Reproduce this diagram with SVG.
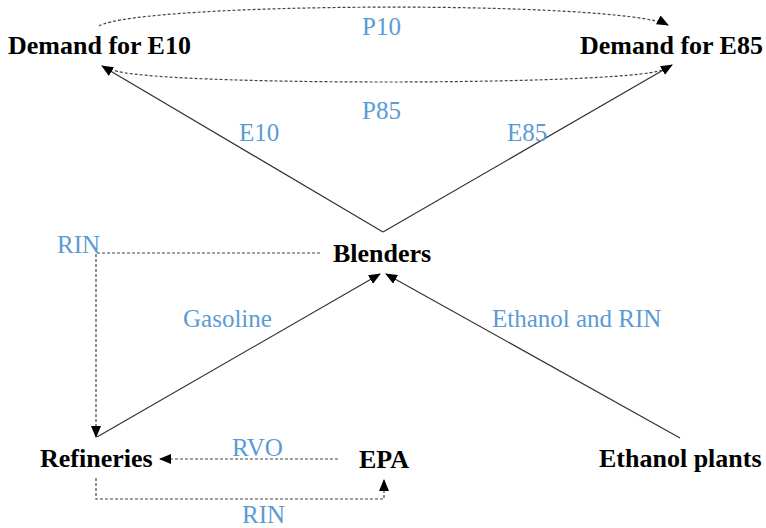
<svg xmlns="http://www.w3.org/2000/svg" width="766" height="528" viewBox="0 0 766 528">
<style>
.node{font-family:"Liberation Serif","Times New Roman",serif;font-weight:bold;font-size:26px;fill:#000}
.lbl{font-family:"Liberation Serif","Times New Roman",serif;font-size:25px;fill:#5B9BD5}
.solid{fill:none;stroke:#333;stroke-width:1.2}
.dash{fill:none;stroke:#444;stroke-width:1.2;stroke-dasharray:3,2}
</style>
<defs>
<marker id="ah" markerWidth="12" markerHeight="10" refX="11" refY="5" orient="auto" markerUnits="userSpaceOnUse">
<path d="M0,0 L12,5 L0,10 z" fill="#000"/>
</marker>
</defs>
<rect width="766" height="528" fill="#fff"/>
<g id="connectors">
<path class="dash" d="M99,26 C140,2 620,0 668,25" marker-end="url(#ah)"/>
<path class="dash" d="M662,70 C620,86 150,86 113,70"/>
<path class="solid" d="M383,232 L102,66" marker-end="url(#ah)"/>
<path class="solid" d="M383,232 L672,65" marker-end="url(#ah)"/>
<path class="solid" d="M97,437 L380,274" marker-end="url(#ah)"/>
<path class="solid" d="M680,438 L386,274" marker-end="url(#ah)"/>
<path class="dash" d="M320,253 L96,253 L96,437" marker-end="url(#ah)"/>
<path class="dash" d="M338,459 L160,459" marker-end="url(#ah)"/>
<path class="dash" d="M96,478 L96,499 L384,499 L384,480" marker-end="url(#ah)"/>
</g>
<g id="labels">
<text class="lbl" x="362" y="35">P10</text>
<text class="lbl" x="362" y="119">P85</text>
<text class="lbl" x="239" y="141">E10</text>
<text class="lbl" x="507" y="141">E85</text>
<text class="lbl" x="57" y="253">RIN</text>
<text class="lbl" x="183" y="327">Gasoline</text>
<text class="lbl" x="492" y="327">Ethanol and RIN</text>
<text class="lbl" x="232" y="456">RVO</text>
<text class="lbl" x="242" y="523">RIN</text>
</g>
<g id="demand-e10"><text class="node" x="8" y="54">Demand for E10</text></g>
<g id="demand-e85"><text class="node" x="580" y="54">Demand for E85</text></g>
<g id="blenders"><text class="node" x="333" y="262">Blenders</text></g>
<g id="refineries"><text class="node" x="40" y="467">Refineries</text></g>
<g id="epa"><text class="node" x="359" y="468">EPA</text></g>
<g id="ethanol-plants"><text class="node" x="599" y="467">Ethanol plants</text></g>
</svg>
